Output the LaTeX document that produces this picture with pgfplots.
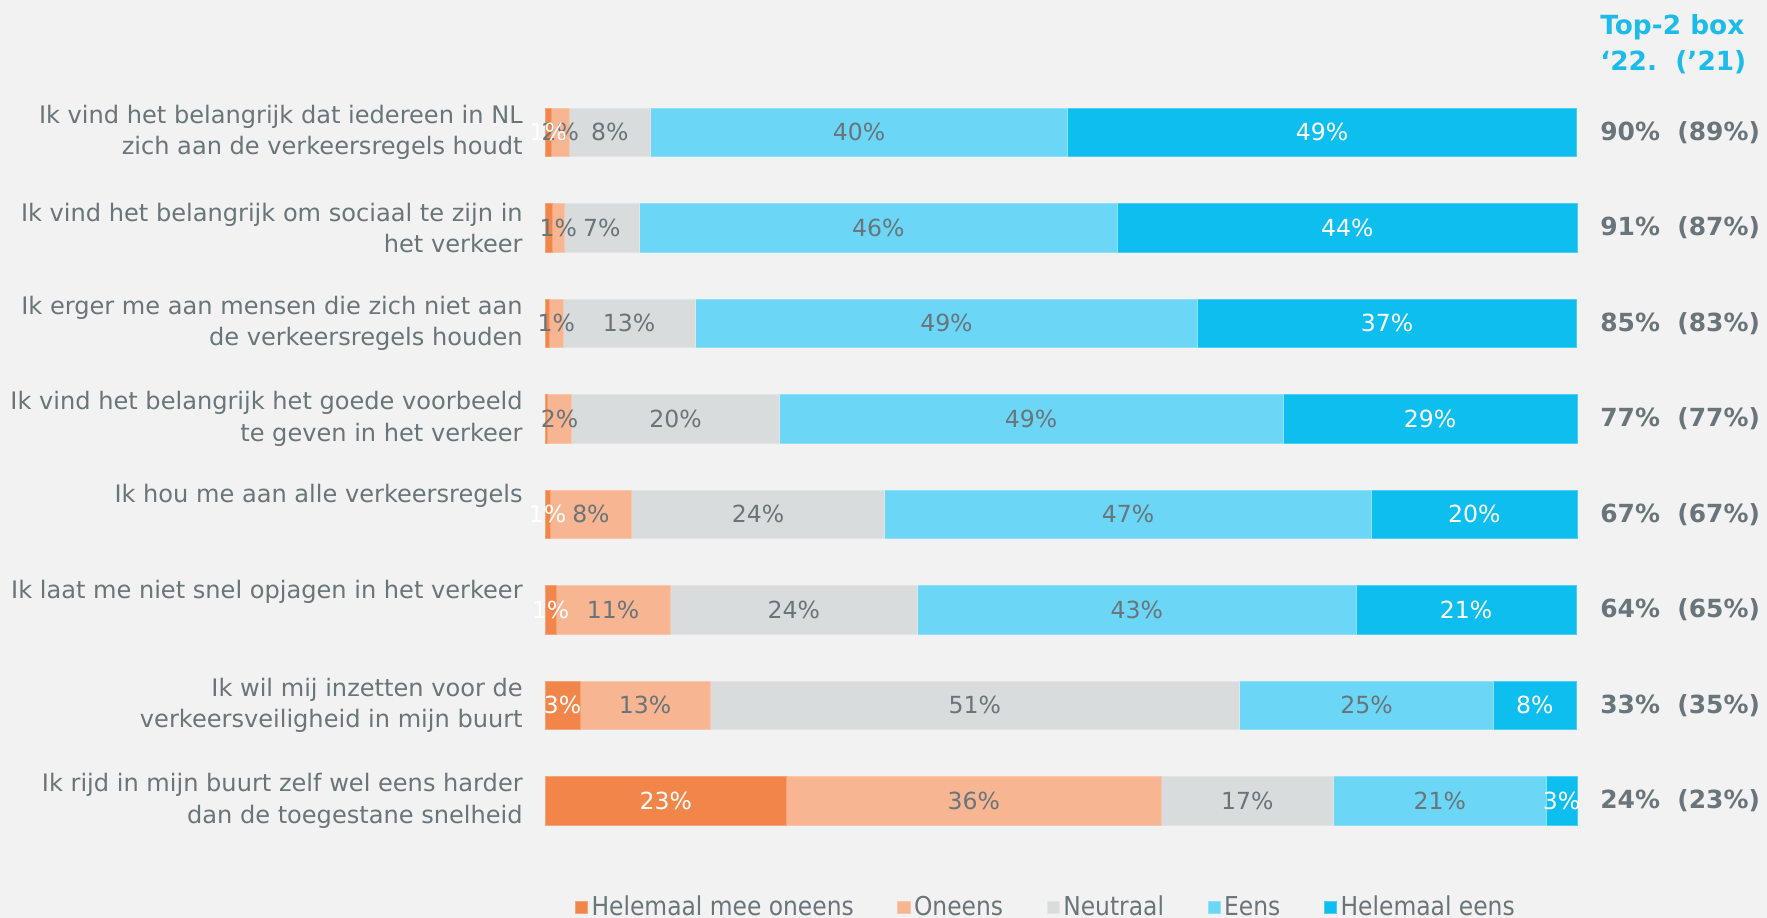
\documentclass[border=0pt]{standalone}
\usepackage{pgfplots}
\pgfplotsset{compat=1.18}
\usepackage{pgfplotstable}
\usepackage{fontspec}
\setmainfont{DejaVu Sans}
\newfontfamily\condfont{DejaVu Sans Condensed}

\definecolor{bgc}{HTML}{F2F2F2}
\definecolor{txt}{HTML}{69757A}
\definecolor{cdark}{HTML}{F2864A}
\definecolor{clight}{HTML}{F7B592}
\definecolor{cneu}{HTML}{D9DCDD}
\definecolor{ceens}{HTML}{6BD6F6}
\definecolor{chel}{HTML}{0EBEEE}
\definecolor{chead}{HTML}{1DBBEA}

\newcommand\lblfont{\fontsize{13.7pt}{17.9pt}\selectfont}
\newcommand\barfont{\fontsize{13.4pt}{17.9pt}\selectfont}
\newcommand\legfont{\condfont\fontsize{14.8pt}{17pt}\selectfont}

% widths measured off the bars, labels as printed
\pgfplotstableread{
y w lab
7 0.64 1\%
6 0.7 {}
5 0.45 {}
4 0.2 {}
3 0.5 1\%
2 1.1 1\%
1 3.4 3\%
0 23.4 23\%
}\tdark
\pgfplotstableread{
y w lab
7 1.7 2\%
6 1.2 1\%
5 1.3 1\%
4 2.4 2\%
3 7.9 8\%
2 11.0 11\%
1 12.6 13\%
0 36.3 36\%
}\tlight
\pgfplotstableread{
y w lab
7 7.9 8\%
6 7.2 7\%
5 12.8 13\%
4 20.1 20\%
3 24.5 24\%
2 24.0 24\%
1 51.3 51\%
0 16.7 17\%
}\tneu
\pgfplotstableread{
y w lab
7 40.4 40\%
6 46.4 46\%
5 48.7 49\%
4 48.8 49\%
3 47.2 47\%
2 42.5 43\%
1 24.6 25\%
0 20.6 21\%
}\teens
\pgfplotstableread{
y w lab
7 49.3 49\%
6 44.5 44\%
5 36.7 37\%
4 28.5 29\%
3 19.9 20\%
2 21.3 21\%
1 8.0 8\%
0 3.0 3\%
}\thel

\begin{document}
\begin{tikzpicture}
\begin{scope}[x=0.2mm,y=-0.2mm]
\fill[bgc] (0,0) rectangle (1767,918);
\end{scope}
\begin{axis}[
  at={(109mm,-169.7mm)}, anchor=south west,
  scale only axis, width=206.4mm, height=152.8mm,
  xbar stacked, bar width=9.7mm,
  xmin=0, xmax=100, ymin=-0.5, ymax=7.5,
  axis line style={draw=none}, xtick=\empty,
  ytick={0,...,7}, major tick length=0pt,
  yticklabels={
    {Ik rijd in mijn buurt zelf wel eens harder\\dan de toegestane snelheid},
    {Ik wil mij inzetten voor de\\verkeersveiligheid in mijn buurt},
    {Ik laat me niet snel opjagen in het verkeer\\\strut},
    {Ik hou me aan alle verkeersregels\\\strut},
    {Ik vind het belangrijk het goede voorbeeld\\te geven in het verkeer},
    {Ik erger me aan mensen die zich niet aan\\de verkeersregels houden},
    {Ik vind het belangrijk om sociaal te zijn in\\het verkeer},
    {Ik vind het belangrijk dat iedereen in NL\\zich aan de verkeersregels houdt}},
  yticklabel style={align=right, font=\lblfont, text=txt, inner sep=0pt, anchor=east, xshift=-4.4mm},
  point meta=explicit symbolic,
  nodes near coords={\pgfplotspointmeta},
  every node near coord/.append style={font=\barfont, anchor=center},
  legend style={at={(axis description cs:0.486,-0.077)}, anchor=center, draw=none, fill=none,
    font=\legfont, text=txt, legend columns=5, nodes={inner sep=0.7mm},
    /tikz/every odd column/.append style={column sep=0mm},
    /tikz/every even column/.append style={column sep=8mm}},
  legend image code/.code={\fill[#1] (0mm,-1.25mm) rectangle (2.5mm,1.25mm);},
  clip=false,
]
\addplot[fill=cdark, draw=cdark!75!white, every node near coord/.append style={text=white}]
  table[x=w, y=y, meta=lab] {\tdark};
\addplot[fill=clight, draw=clight!75!white, every node near coord/.append style={text=txt}]
  table[x=w, y=y, meta=lab] {\tlight};
\addplot[fill=cneu, draw=cneu!75!white, every node near coord/.append style={text=txt}]
  table[x=w, y=y, meta=lab] {\tneu};
\addplot[fill=ceens, draw=ceens!75!white, every node near coord/.append style={text=txt}]
  table[x=w, y=y, meta=lab] {\teens};
\addplot[fill=chel, draw=chel!75!white, every node near coord/.append style={text=white}]
  table[x=w, y=y, meta=lab] {\thel};
\legend{Helemaal mee oneens, Oneens, Neutraal, Eens, Helemaal eens}
\end{axis}
\begin{scope}[x=0.2mm,y=-0.2mm]
\node[anchor=west, inner sep=0pt, text=chead, font=\fontsize{15pt}{17pt}\selectfont\bfseries] at (1600,27) {Top-2 box};
\node[anchor=west, inner sep=0pt, text=chead, font=\fontsize{15pt}{17pt}\selectfont\bfseries] at (1600,62) {‘22.\ \ (’21)};
\foreach \yc/\t in {132.4/{90\%\ \ (89\%)}, 227.9/{91\%\ \ (87\%)}, 323.4/{85\%\ \ (83\%)},
    418.9/{77\%\ \ (77\%)}, 514.4/{67\%\ \ (67\%)}, 609.9/{64\%\ \ (65\%)},
    705.4/{33\%\ \ (35\%)}, 800.9/{24\%\ \ (23\%)}}
  \node[anchor=west, inner sep=0pt, text=txt, font=\fontsize{14.2pt}{17pt}\selectfont\bfseries] at (1600,\yc) {\t};
\pgfresetboundingbox
\path[use as bounding box] (0,0) rectangle (1767,918);
\end{scope}
\end{tikzpicture}
\end{document}
